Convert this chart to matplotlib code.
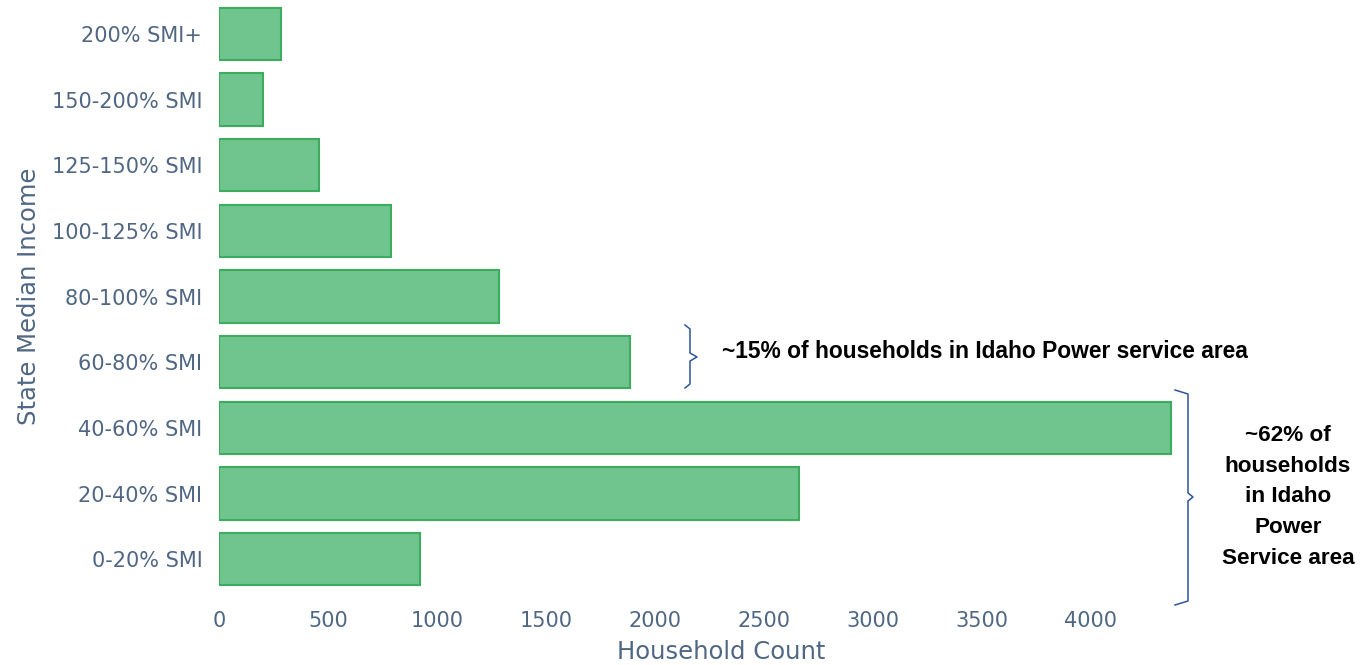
import matplotlib
matplotlib.use("Agg")
import matplotlib.pyplot as plt
from matplotlib import font_manager

categories = ["0-20% SMI", "20-40% SMI", "40-60% SMI", "60-80% SMI", "80-100% SMI",
              "100-125% SMI", "125-150% SMI", "150-200% SMI", "200% SMI+"]
counts = [922, 2661, 4367, 1885, 1284, 789, 459, 202, 284]
xticks = [0, 500, 1000, 1500, 2000, 2500, 3000, 3500, 4000]

names = {f.name for f in font_manager.fontManager.ttflist}
ann_font = "Liberation Sans Narrow" if "Liberation Sans Narrow" in names else "Liberation Sans"

W, H = 1369, 665
fig = plt.figure(figsize=(W / 100, H / 100), dpi=100)
ax = fig.add_axes([219 / W, 1 - 592 / H, (1178 - 219) / W, (592 - 1) / H])

ax.barh(range(len(categories)), counts, height=0.8, color="#70c48d",
        edgecolor="#3cad5f", linewidth=1.5)
ax.set_ylim(-0.5, len(categories) - 0.5)
ax.set_xlim(0, 4400)
ax.set_yticks(range(len(categories)))
ax.set_yticklabels(categories)
ax.set_xticks(xticks)
ax.set_xticklabels([str(v) for v in xticks])
for s in ax.spines.values():
    s.set_visible(False)
tc = "#506784"
ax.tick_params(axis="both", length=0, labelsize=15, colors=tc)
ax.tick_params(axis="x", pad=14)
ax.tick_params(axis="y", pad=12)
ax.set_xlabel("Household Count", fontsize=17.5, color=tc)
ax.xaxis.set_label_coords((721 - 219) / 959, (592 - 652) / 591)
ax.xaxis.label.set_va("center")
ax.set_ylabel("State Median Income", fontsize=17.5, color=tc, labelpad=8)

# brackets in pixel-based figure coordinates
bc = "#2f5597"
def px(x, y):
    return x / W, 1 - y / H

def bracket(x0, xm, y0, y1, ytip, xtip):
    pts = [(x0, y0), (xm, y0 + 4), (xm, ytip - 4), (xtip, ytip), (xm, ytip + 4),
           (xm, y1 - 4), (x0, y1)]
    xs, ys = zip(*[px(a, b) for a, b in pts])
    fig.add_artist(plt.Line2D(xs, ys, color=bc, lw=1.1, transform=fig.transFigure))

bracket(685, 690, 325, 388, 357, 697)
bracket(1175, 1188, 390, 605, 497, 1193)

fig.text(*px(722, 351), "~15% of households in Idaho Power service area",
         fontsize=16.4, fontweight="bold", family=ann_font, ha="left", va="center",
         color="black")
fig.text(*px(1288, 497), "~62% of\nhouseholds\nin Idaho\nPower\nService area",
         fontsize=16.2, fontweight="bold", family=ann_font, ha="center", va="center",
         color="black", linespacing=1.6)

fig.savefig("out.png", dpi=100, facecolor="white")
